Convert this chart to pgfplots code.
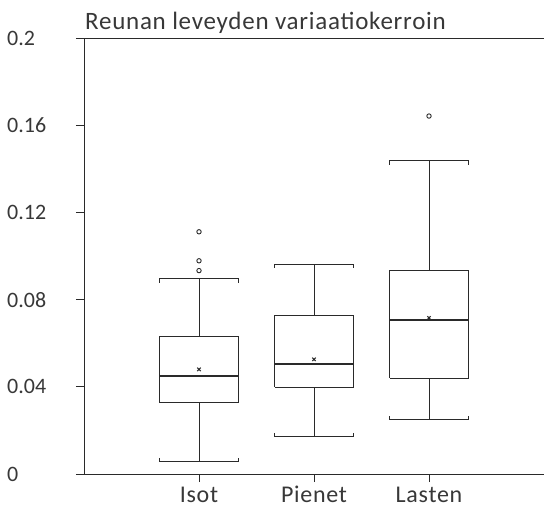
\documentclass[border=0pt]{standalone}
\usepackage{fontspec}
\setmainfont{Carlito}
\newfontfamily\lsfont{Carlito}[LetterSpace=3]
\usepackage{pgfplots}
\pgfplotsset{compat=1.18}
\definecolor{ink}{HTML}{2A2A2A}
\definecolor{txt}{HTML}{383838}
\pgfplotsset{
  bx/.style={ink, line width=0.9bp, no markers},
}
\begin{document}
\begin{tikzpicture}
\useasboundingbox (0,0) rectangle (544bp,507bp);
\begin{axis}[
  at={(84bp,33bp)}, anchor=south west,
  scale only axis, width=460bp, height=436bp,
  xmin=0, xmax=4, ymin=0, ymax=0.2,
  axis lines*=left,
  axis line style={ink, line width=0.9bp},
  tick style={ink, line width=0.9bp},
  tick align=outside, major tick length=8bp,
  xtick={1,2,3}, xticklabels={Isot,Pienet,Lasten},
  ytick={0,0.04,0.08,0.12,0.16,0.2},
  yticklabels={0,0.04,0.08,0.12,0.16,0.2},
  yticklabel style={anchor=west, inner sep=0pt, xshift=-69bp, font=\fontsize{22bp}{24bp}\selectfont, text=txt},
  xticklabel style={font=\lsfont\fontsize{24bp}{26bp}\selectfont, text=txt, anchor=north, text height=16bp, text depth=0pt, inner sep=0pt, yshift=-4bp},
  clip=false,
]
% ---- Isot (x = 1): whiskers 0.0056 / 0.0896, quartiles 0.0327 / 0.0630, median 0.0450
\addplot[bx] coordinates {(1,0.0630) (1,0.0896)};
\addplot[bx] coordinates {(1,0.0327) (1,0.0056)};
\addplot[bx] coordinates {(0.66,0.0878) (0.66,0.0896) (1.34,0.0896) (1.34,0.0878)};
\addplot[bx] coordinates {(0.66,0.0074) (0.66,0.0056) (1.34,0.0056) (1.34,0.0074)};
\addplot[bx, fill=white] coordinates {(0.66,0.0327) (1.34,0.0327) (1.34,0.0630) (0.66,0.0630) (0.66,0.0327)};
\addplot[bx, line width=2.2bp] coordinates {(0.66,0.0450) (1.34,0.0450)};
% ---- Pienet (x = 2): whiskers 0.0171 / 0.0963, quartiles 0.0398 / 0.0726, median 0.0505
\addplot[bx] coordinates {(2,0.0726) (2,0.0963)};
\addplot[bx] coordinates {(2,0.0398) (2,0.0171)};
\addplot[bx] coordinates {(1.66,0.0945) (1.66,0.0963) (2.34,0.0963) (2.34,0.0945)};
\addplot[bx] coordinates {(1.66,0.0189) (1.66,0.0171) (2.34,0.0171) (2.34,0.0189)};
\addplot[bx, fill=white] coordinates {(1.66,0.0398) (2.34,0.0398) (2.34,0.0726) (1.66,0.0726) (1.66,0.0398)};
\addplot[bx, line width=2.2bp] coordinates {(1.66,0.0505) (2.34,0.0505)};
% ---- Lasten (x = 3): whiskers 0.0248 / 0.1436, quartiles 0.0439 / 0.0934, median 0.0705
\addplot[bx] coordinates {(3,0.0934) (3,0.1436)};
\addplot[bx] coordinates {(3,0.0439) (3,0.0248)};
\addplot[bx] coordinates {(2.66,0.1418) (2.66,0.1436) (3.34,0.1436) (3.34,0.1418)};
\addplot[bx] coordinates {(2.66,0.0266) (2.66,0.0248) (3.34,0.0248) (3.34,0.0266)};
\addplot[bx, fill=white] coordinates {(2.66,0.0439) (3.34,0.0439) (3.34,0.0934) (2.66,0.0934) (2.66,0.0439)};
\addplot[bx, line width=2.2bp] coordinates {(2.66,0.0705) (3.34,0.0705)};
% outliers
\addplot[only marks, mark=o, mark size=2.2bp, ink, line width=0.9bp] coordinates {(1,0.1111) (1,0.0978) (1,0.0933) (3,0.1642)};
% means
\addplot[only marks, mark=x, mark size=2.4bp, ink, line width=1bp] coordinates {(1,0.0480) (2,0.0526) (3,0.0716)};
\draw[ink, line width=0.9bp] (axis cs:0,0.2) -- (axis cs:4,0.2);
\node[anchor=base west, font=\lsfont\fontsize{25bp}{27bp}\selectfont, text=txt, inner sep=0pt] at (rel axis cs:0,1) [yshift=8.5bp, xshift=1bp] {Reunan leveyden variaatiokerroin};
\end{axis}
\end{tikzpicture}
\end{document}
